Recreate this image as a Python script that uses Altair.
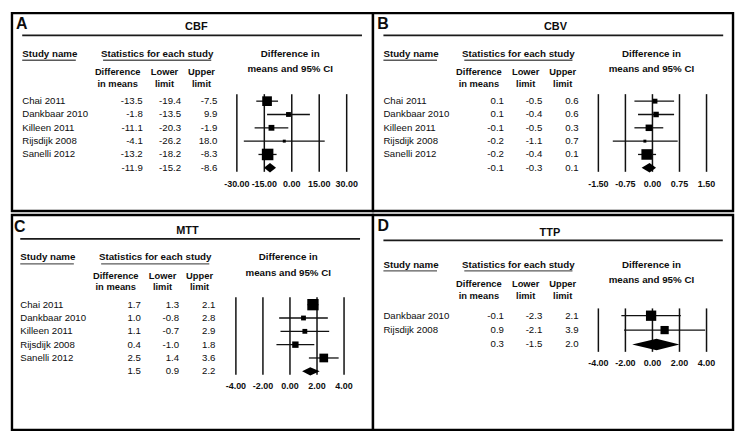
import altair as alt
import pandas as pd

# ---------------- data ----------------
studies_5 = ["Chai 2011", "Dankbaar 2010", "Killeen 2011", "Rijsdijk 2008", "Sanelli 2012"]
studies_2 = ["Dankbaar 2010", "Rijsdijk 2008"]

cbf_diff = [-13.5, -1.8, -11.1, -4.1, -13.2]
cbf_lower = [-19.4, -13.5, -20.3, -26.2, -18.2]
cbf_upper = [-7.5, 9.9, -1.9, 18.0, -8.3]
cbf_weight = [32, 8, 11.5, 3, 45.5]
cbf_summary = [-11.9, -15.2, -8.6]
cbf_ticks = [-30, -15, 0, 15, 30]
cbf_tick_labels = ["-30.00", "-15.00", "0.00", "15.00", "30.00"]

cbv_diff = [0.07, 0.10, -0.10, -0.21, -0.16]
cbv_lower = [-0.5, -0.4, -0.5, -1.1, -0.4]
cbv_upper = [0.6, 0.6, 0.3, 0.7, 0.1]
cbv_weight = [11, 14, 19.5, 4, 51.5]
cbv_summary = [-0.08, -0.3, 0.1]
cbv_ticks = [-1.5, -0.75, 0, 0.75, 1.5]
cbv_tick_labels = ["-1.50", "-0.75", "0.00", "0.75", "1.50"]

mtt_diff = [1.7, 1.0, 1.1, 0.4, 2.5]
mtt_lower = [1.3, -0.8, -0.7, -1.0, 1.4]
mtt_upper = [2.1, 2.8, 2.9, 1.8, 3.6]
mtt_weight = [44, 8, 8, 14, 26]
mtt_summary = [1.5, 0.9, 2.2]
mtt_ticks = [-4, -2, 0, 2, 4]
mtt_tick_labels = ["-4.00", "-2.00", "0.00", "2.00", "4.00"]

ttp_diff = [-0.1, 0.9]
ttp_lower = [-2.3, -2.1]
ttp_upper = [2.1, 3.9]
ttp_weight = [61, 39]
ttp_summary = [0.3, -1.5, 2.0]
ttp_ticks = [-4, -2, 0, 2, 4]
ttp_tick_labels = ["-4.00", "-2.00", "0.00", "2.00", "4.00"]

# ---------------- layout / style ----------------
FONT = "Liberation Sans"
INK = "#0d0d0d"
SX = 725 / 740
SY = 415 / 430.5
W_LEFT, W_RIGHT = 363, 362
H_TOP, H_BOTTOM = 199, 216
BODY_SIZE = 9.7
HEAD_SIZE = 9.8
COL_SIZE = 9.4


def base_layout(dx, dy):
    return {
        "letter": (6.7 + dx, 13.8 + dy),
        "tline": (13 + dx, 361.7 + dx, 25.7 + dy),
        "title_y": 17.3 + dy,
        "hdr_y": 45 + dy,
        "ul_y": 51.7 + dy,
        "means_y": 61 + dy,
        "col_y": (64 + dy, 76 + dy),
        "name_x": 13 + dx,
        "stud_ul": (13 + dx, 68 + dx),
        "stat_cx": 151.5 + dx,
        "stat_ul": (96 + dx, 207 + dx),
        "diffin_cx": 288 + dx,
        "col_cx": [111 + dx, 159 + dx, 197 + dx],
        "col_rx": [136.7 + dx, 176 + dx, 213.3 + dx],
        "row0": 94.3 + dy,
        "rowdy": 13.9,
        "vl": (87 + dy, 168 + dy),
        "tick_y": 180.5 + dy,
    }


lay_A = base_layout(0, 0)
lay_A.update(ox=2.5, oy=2.5, title_cx=191.7, fx=(233.3, 346))
lay_B = base_layout(370.7, 0)
lay_B.update(ox=373, oy=2.5, title_cx=560.3, fx=(604.3, 715.3))
lay_C = base_layout(-2, 208.5)
lay_C.update(ox=2.5, oy=209.3, title_cx=182.5, fx=(232.3, 343.3), vl=(295, 376), tick_y=388)
lay_D = base_layout(370.7, 0)
lay_D.update(
    ox=373, oy=209.3, title_cx=554.5, fx=(604.3, 715.3),
    letter=(377.7, 220.8), tline=(383.7, 732, 235.7), title_y=228.3,
    hdr_y=261.7, ul_y=267.5, means_y=276.7, col_y=(281, 293.7),
    row0=314.3, rowdy=15.0, vl=(306.7, 352), tick_y=363.3,
)

one = pd.DataFrame({"k": [0]})


def fmt1(v):
    s = f"{v:.1f}"
    return "0.0" if s == "-0.0" else s


def make_panel(letter, title, studies, diff, lower, upper, weight, summary,
               ticks, tick_labels, lay, w, h, size_max, dh):
    px = lambda x: (x - lay["ox"]) * SX
    py = lambda y: (y - lay["oy"]) * SY

    def txt(s, x, y, align="left", bold=True, size=HEAD_SIZE):
        return alt.Chart(pd.DataFrame({"t": [s]})).mark_text(
            align=align, baseline="middle", font=FONT, fontSize=size,
            fontWeight="bold" if bold else "normal", color=INK,
        ).encode(x=alt.value(x), y=alt.value(y), text="t:N")

    def hline(x1, x2, y, color, width):
        return alt.Chart(one).mark_rule(color=color, strokeWidth=width).encode(
            x=alt.value(x1), x2=alt.value(x2), y=alt.value(y))

    n = len(studies)
    rows = pd.DataFrame({"row": list(range(n)), "study": studies, "diff": diff,
                         "lower": lower, "upper": upper, "weight": weight})
    summ = pd.DataFrame({"row": [n], "diff": [summary[0]],
                         "lower": [summary[1]], "upper": [summary[2]]})
    nums = pd.concat([rows[["row", "diff", "lower", "upper"]], summ], ignore_index=True)
    for c in ["diff", "lower", "upper"]:
        nums[c + "_s"] = nums[c].map(fmt1)

    r0 = lay["row0"]
    yscale = alt.Scale(domain=[0, n], range=[py(r0), py(r0 + n * lay["rowdy"])],
                       nice=False, zero=False)
    xscale = alt.Scale(domain=[ticks[0], ticks[-1]], range=[px(lay["fx"][0]), px(lay["fx"][1])],
                       nice=False, zero=False)
    Y = alt.Y("row:Q", scale=yscale, axis=None)

    layers = []
    # panel letter and title
    layers.append(txt(letter, px(lay["letter"][0]), py(lay["letter"][1]), size=16))
    layers.append(txt(title, px(lay["title_cx"]), py(lay["title_y"]), align="center", size=11))
    tl = lay["tline"]
    layers.append(hline(px(tl[0]), px(tl[1]), py(tl[2]), "#1a1a1a", 1.6))
    # headers
    layers.append(txt("Study name", px(lay["name_x"]), py(lay["hdr_y"])))
    layers.append(hline(px(lay["stud_ul"][0]), px(lay["stud_ul"][1]), py(lay["ul_y"]), "#5a5a5a", 1.4))
    layers.append(txt("Statistics for each study", px(lay["stat_cx"]), py(lay["hdr_y"]), align="center"))
    layers.append(hline(px(lay["stat_ul"][0]), px(lay["stat_ul"][1]), py(lay["ul_y"]), "#5a5a5a", 1.4))
    layers.append(txt("Difference in", px(lay["diffin_cx"]), py(lay["hdr_y"]), align="center"))
    layers.append(txt("means and 95% CI", px(lay["diffin_cx"]), py(lay["means_y"]), align="center"))
    col_heads = [("Difference", "in means"), ("Lower", "limit"), ("Upper", "limit")]
    for (a, b), cx in zip(col_heads, lay["col_cx"]):
        layers.append(txt(a, px(cx), py(lay["col_y"][0]), align="center", size=COL_SIZE))
        layers.append(txt(b, px(cx), py(lay["col_y"][1]), align="center", size=COL_SIZE))

    # table body
    layers.append(alt.Chart(rows).mark_text(
        align="left", baseline="middle", font=FONT, fontSize=BODY_SIZE, color=INK
    ).encode(x=alt.value(px(lay["name_x"])), y=Y, text="study:N"))
    for c, rx in zip(["diff_s", "lower_s", "upper_s"], lay["col_rx"]):
        layers.append(alt.Chart(nums).mark_text(
            align="right", baseline="middle", font=FONT, fontSize=BODY_SIZE, color=INK
        ).encode(x=alt.value(px(rx)), y=Y, text=f"{c}:N"))

    # forest plot
    tdf = pd.DataFrame({"t": ticks, "lab": tick_labels})
    layers.append(alt.Chart(tdf).mark_rule(color="#111111", strokeWidth=1.5).encode(
        x=alt.X("t:Q", scale=xscale, axis=None),
        y=alt.value(py(lay["vl"][0])), y2=alt.value(py(lay["vl"][1]))))
    layers.append(alt.Chart(rows).mark_rule(color="#111111", strokeWidth=1.3).encode(
        x=alt.X("lower:Q", scale=xscale, axis=None), x2="upper:Q", y=Y))
    layers.append(alt.Chart(rows).mark_square(filled=True, color="black", opacity=1).encode(
        x=alt.X("diff:Q", scale=xscale, axis=None), y=Y,
        size=alt.Size("weight:Q", scale=alt.Scale(domain=[0, 100], range=[0, size_max]), legend=None)))
    dia = pd.DataFrame({"x": [summary[1], summary[0], summary[2]],
                        "y": [n, n - dh, n], "y2": [n, n + dh, n]})
    layers.append(alt.Chart(dia).mark_area(orient="vertical", color="black", opacity=1).encode(
        x=alt.X("x:Q", scale=xscale, axis=None),
        y=alt.Y("y:Q", scale=yscale, axis=None), y2="y2:Q"))
    layers.append(alt.Chart(tdf).mark_text(
        align="center", baseline="middle", font=FONT, fontSize=9.0, fontWeight="bold", color=INK
    ).encode(x=alt.X("t:Q", scale=xscale, axis=None), y=alt.value(py(lay["tick_y"])), text="lab:N"))

    return alt.layer(*layers).properties(width=w, height=h)


pA = make_panel("A", "CBF", studies_5, cbf_diff, cbf_lower, cbf_upper, cbf_weight, cbf_summary,
                cbf_ticks, cbf_tick_labels, lay_A, W_LEFT, H_TOP, 296, 0.36)
pB = make_panel("B", "CBV", studies_5, cbv_diff, cbv_lower, cbv_upper, cbv_weight, cbv_summary,
                cbv_ticks, cbv_tick_labels, lay_B, W_RIGHT, H_TOP, 219, 0.36)
pC = make_panel("C", "MTT", studies_5, mtt_diff, mtt_lower, mtt_upper, mtt_weight, mtt_summary,
                mtt_ticks, mtt_tick_labels, lay_C, W_LEFT, H_BOTTOM, 295, 0.31)
pD = make_panel("D", "TTP", studies_2, ttp_diff, ttp_lower, ttp_upper, ttp_weight, ttp_summary,
                ttp_ticks, ttp_tick_labels, lay_D, W_RIGHT, H_BOTTOM, 176, 0.40)

top = alt.hconcat(pA, pB, spacing=0, bounds="flush").resolve_scale(
    x="independent", y="independent", size="independent")
bottom = alt.hconcat(pC, pD, spacing=0, bounds="flush").resolve_scale(
    x="independent", y="independent", size="independent")
chart = alt.vconcat(top, bottom, spacing=0).resolve_scale(
    x="independent", y="independent", size="independent"
).properties(padding=2, background="white").configure(
    font=FONT
).configure_view(
    stroke="black", strokeWidth=2.4, fill="white"
)

chart.save("out.html", embed_options={"renderer": "svg", "actions": False})
